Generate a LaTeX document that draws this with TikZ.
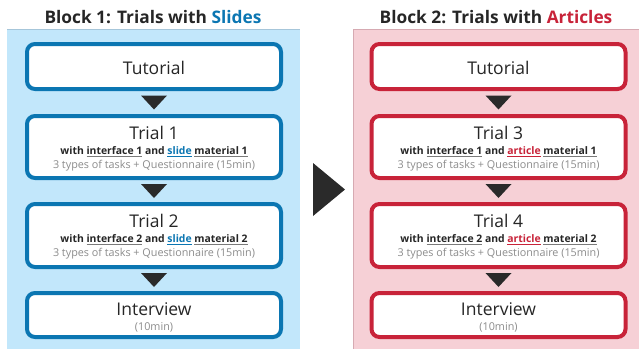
\documentclass[tikz,border=0pt]{standalone}
\usepackage{fontspec}
\setmainfont{Open Sans}
\definecolor{bblue}{HTML}{0B76B2}
\definecolor{bred}{HTML}{C82339}
\definecolor{pblue}{HTML}{C2E7FB}
\definecolor{pred}{HTML}{F6D0D6}
\definecolor{pblueline}{HTML}{A6C6DA}
\definecolor{predline}{HTML}{D6AAB2}
\definecolor{dtext}{HTML}{262626}
\definecolor{gtext}{HTML}{8C8C8C}
\definecolor{ulgray}{HTML}{7A7A7A}
\definecolor{arr}{HTML}{2A2A2A}
\newcommand\ulx[1]{\textcolor{ulgray}{\underline{\textcolor{dtext}{#1}}}}
\newcommand\ulc[2]{\textcolor{#1}{\underline{#2}}}
\tikzset{
  stepbox/.style={draw=#1, line width=4pt, rounded corners=8pt, fill=white, minimum width=254pt, inner sep=0pt},
  ttl/.style={font=\bfseries\fontsize{17.3}{20}\selectfont, text=dtext, inner sep=0pt},
  boxtitle/.style={font=\fontsize{17.5}{20}\selectfont, text=dtext, inner sep=0pt},
  subline/.style={font=\bfseries\fontsize{10.4}{12}\selectfont, text=dtext, inner sep=0pt},
  grayline/.style={font=\fontsize{10.8}{13}\selectfont, text=gtext, inner sep=0pt},
}
\begin{document}
\begin{tikzpicture}[x=1pt,y=-1pt]
\useasboundingbox (0,0) rectangle (639,349);
% panels
\fill[pblue] (7,29) rectangle (300,349);
\draw[pblueline, line width=0.8pt] (7,29) -- (300,29);
\fill[pred] (353,29) rectangle (639,349);
\draw[predline, line width=0.8pt] (353,349) -- (353,29) -- (639,29);
% titles
\node[ttl] (t1) at (153,17) {Block 1: Trials with \textcolor{bblue}{Slides}};
\node[ttl] (t2) at (496,17) {Block 2: Trials with \textcolor{bred}{Articles}};
% big arrow
\fill[arr] (313,163) -- (345,189.5) -- (313,216) -- cycle;
% ---------- columns
\foreach \c/\cx/\nm in {bblue/154/L, bred/498.5/R}{
  \node[stepbox=\c, minimum height=45pt] (\nm tut) at (\cx,66.5) {};
  \node[stepbox=\c, minimum height=62pt] (\nm one) at (\cx,147) {};
  \node[stepbox=\c, minimum height=63pt] (\nm two) at (\cx,235.5) {};
  \node[stepbox=\c, minimum height=44pt] (\nm int) at (\cx,315) {};
  \foreach \a/\b in {tut/one, one/two, two/int}{
    \path ([yshift=-2pt]\nm\a.south) -- ([yshift=2pt]\nm\b.north) coordinate[midway] (\nm\a m);
    \fill[arr] ([shift={(-13pt,7pt)}]\nm\a m) -- ([shift={(13pt,7pt)}]\nm\a m) -- ([shift={(0pt,-7pt)}]\nm\a m) -- cycle;
  }
  \node[boxtitle] (\nm tutx) at (\cx,68) {Tutorial};
  \node[boxtitle] (\nm intx) at (\cx,309.5) {Interview};
  \node[grayline] (\nm intg) at (\cx,327) {(10min)};
}
% Trial text left
\node[boxtitle] (L1a) at (154,133) {Trial 1};
\node[subline] (L1b) at (154,151.5) {with \ulx{interface 1} and \ulc{bblue}{slide} \ulx{material 1}};
\node[grayline] (L1c) at (154,165.5) {3 types of tasks + Questionnaire (15min)};
\node[boxtitle] (L2a) at (154,221) {Trial 2};
\node[subline] (L2b) at (154,240) {with \ulx{interface 2} and \ulc{bblue}{slide} \ulx{material 2}};
\node[grayline] (L2c) at (154,254) {3 types of tasks + Questionnaire (15min)};
% Trial text right
\node[boxtitle] (R1a) at (498.5,133) {Trial 3};
\node[subline] (R1b) at (498.5,151.5) {with \ulx{interface 1} and \ulc{bred}{article} \ulx{material 1}};
\node[grayline] (R1c) at (498.5,165.5) {3 types of tasks + Questionnaire (15min)};
\node[boxtitle] (R2a) at (498.5,221) {Trial 4};
\node[subline] (R2b) at (498.5,240) {with \ulx{interface 2} and \ulc{bred}{article} \ulx{material 2}};
\node[grayline] (R2c) at (498.5,254) {3 types of tasks + Questionnaire (15min)};
\end{tikzpicture}
\end{document}
